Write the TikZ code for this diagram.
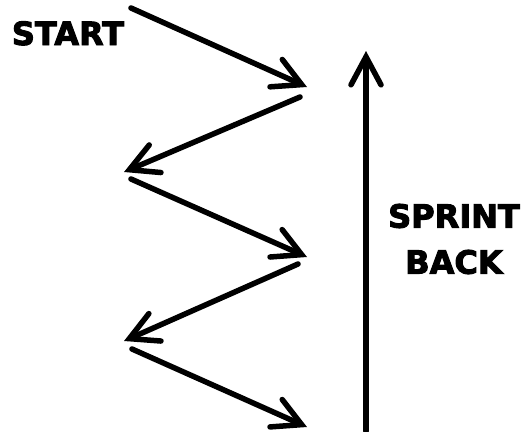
\documentclass[tikz,border=0pt]{standalone}
\usepackage{fontspec}
\setmainfont{DejaVu Sans}[BoldFeatures={FakeBold=3}]
\usetikzlibrary{
positioning,
arrows.meta
}
\tikzset{
runarrow/.style={
-{Straight Barb[length=28pt,width=30pt,line cap=round]},
line width=5.5pt,
line cap=round
},
label/.style={
font=\fontsize{32}{46}\selectfont\bfseries,
inner sep=0pt,
align=center
}
}

\begin{document}
\begin{tikzpicture}[x=1pt,y=-1pt]
\useasboundingbox (0,0) rectangle (521,431);

% zigzag corners
\coordinate (t1) at (131,8);
\coordinate (h1) at (307,87);
\coordinate (t2) at (300,97);
\coordinate (h2) at (124,172);
\coordinate (t3) at (131,179);
\coordinate (h3) at (307,257);
\coordinate (t4) at (298,264);
\coordinate (h4) at (124,341);
\coordinate (t5) at (132,349);
\coordinate (h5) at (307,427);
\coordinate (back0) at (366,431);
\coordinate (back1) at (366,51);

\node[label, anchor=base] (start) at (68,45) {START};
\node[label] (sprint) at (454,239) {SPRINT\\BACK};

\draw[runarrow] (t1) -- (h1);
\draw[runarrow] (t2) -- (h2);
\draw[runarrow] (t3) -- (h3);
\draw[runarrow] (t4) -- (h4);
\draw[runarrow] (t5) -- (h5);
\draw[runarrow] (back0) -- (back1);

\end{tikzpicture}
\end{document}
